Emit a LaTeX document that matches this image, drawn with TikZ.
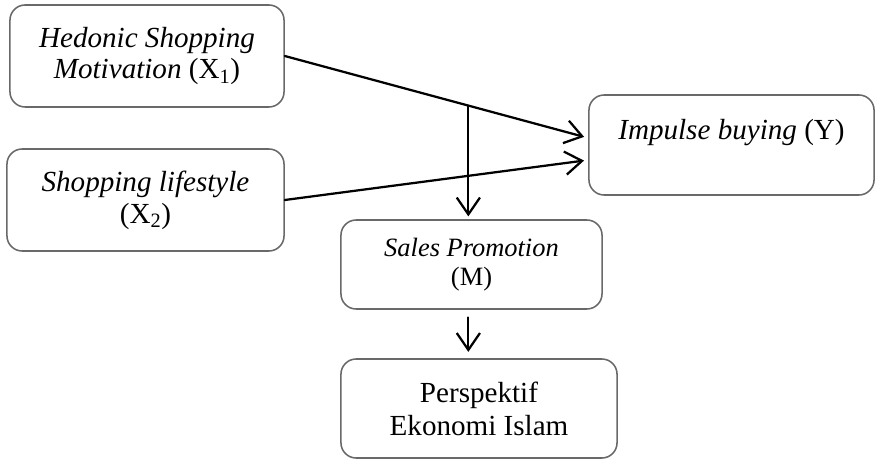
\documentclass[tikz,border=0pt]{standalone}
\usepackage{fontspec}
\setmainfont{Liberation Serif}
\usepackage{xcolor}
\usetikzlibrary{arrows.meta, positioning, calc}
\definecolor{boxline}{RGB}{105,105,105}

\begin{document}
\begin{tikzpicture}[
    x=0.025cm, y=-0.025cm,
    var/.style={draw=boxline, line width=1.1pt, rounded corners=0.38cm, align=center, font=\fontsize{20.7}{22.6}\selectfont},
    link/.style={-{Straight Barb[length=12pt, width=16.5pt, line width=1.6pt]}, line width=1.6pt, line cap=round}
]
    \useasboundingbox (0,0) rectangle (875,459);

    % Variables
    \node[var, minimum width=6.85cm, minimum height=2.55cm] (hed) at (147,56) {\textit{Hedonic Shopping}\\\textit{Motivation} (X\textsubscript{1})};
    \node[var, minimum width=6.925cm, minimum height=2.55cm] (sty) at (145.5,200) {\textit{Shopping lifestyle}\\(X\textsubscript{2})};
    \node[var, minimum width=7.125cm, minimum height=2.5cm] (imp) at (731.5,145) {\textit{Impulse buying} (Y)\\~};
    \node[var, minimum width=6.525cm, minimum height=2.225cm, font=\fontsize{18.8}{20.6}\selectfont] (sal) at (471.5,264.5) {\textit{Sales Promotion}\\(M)};
    \node[var, minimum width=6.9cm, minimum height=2.475cm, font=\fontsize{20.7}{23.5}\selectfont] (per) at (479,408.5) {Perspektif\\Ekonomi Islam};

    % Paths
    \draw[link, shorten >=3pt] (hed.east) -- coordinate[pos=0.605] (split) ([yshift=5pt]imp.west);
    \draw[link, shorten >=3pt] (sty.east) -- ([yshift=-10.7pt]imp.west);
    \draw[link, shorten >=2pt] (split) -- (split |- sal.north);

    % Outcome
    \draw[link, shorten <=5.5pt, shorten >=4.5pt] (split |- sal.south) -- (split |- per.north);
\end{tikzpicture}
\end{document}
